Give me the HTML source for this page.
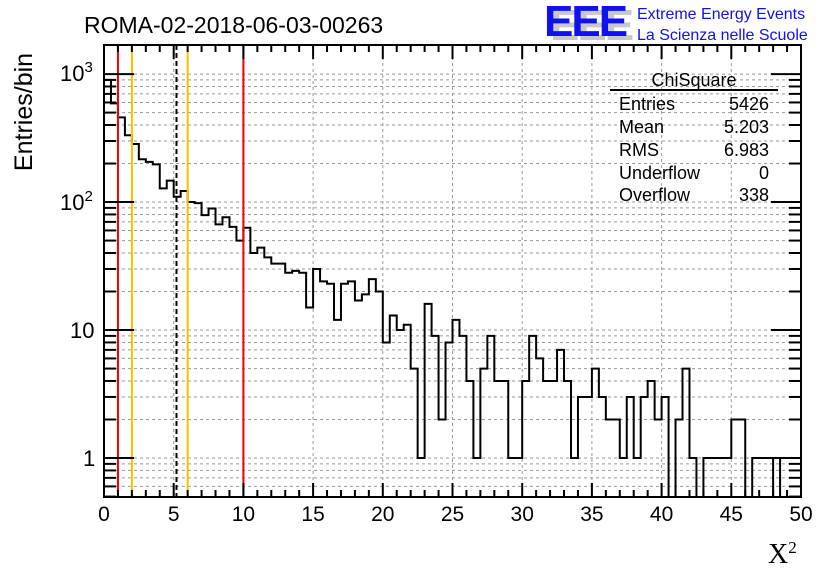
<!DOCTYPE html>
<html><head><meta charset="utf-8"><style>
html,body{margin:0;padding:0;background:#fff;}
svg{display:block;font-family:"Liberation Sans",sans-serif;}
</style></head><body>
<svg id="c" width="836" height="572" viewBox="0 0 836 572"></svg>
<script>
const binWidth = 0.5;
const counts = [900,590,459,333,284,216,206,197,128,147,110,122,100,98,79,89,67,76,64,50,
63,40,44,37,33,33,28,29,28,15,30,24,23,12,23,24,17,19,25,20,
8,13,10,11,5,1,16,9,2,8,12,9,4,1,5,9,4,4,1,1,
4,9,6,4,4,7,4,1,3,3,5,3,2,2,1,3,1,3,4,2,
3,0,2,5,1,0,1,1,1,1,2,2,0,1,1,1,0,1,1,1];
const xTickLabels = ["0","5","10","15","20","25","30","35","40","45","50"];
const xTickValues = [0,5,10,15,20,25,30,35,40,45,50];
const redLines = [1,10];
const orangeLines = [2,6];
const meanLine = [5.2];
const statsLabels = ["Entries","Mean","RMS","Underflow","Overflow"];
const statsValues = ["5426","5.203","6.983","0","338"];

const L=104,R=801,T=45,B=497, xmin=0,xmax=50, lmin=Math.log10(0.496), lmax=Math.log10(1687);
const X=v=>L+(v-xmin)/(xmax-xmin)*(R-L);
const Y=v=>B-(Math.log10(v)-lmin)/(lmax-lmin)*(B-T);
const svg=document.getElementById('c');
const NS='http://www.w3.org/2000/svg';
function mk(tag,attrs,parent){const e=document.createElementNS(NS,tag);for(const k in attrs)e.setAttribute(k,attrs[k]);(parent||svg).appendChild(e);return e;}

// grid
const grid=mk('g',{});


xTickValues.forEach(v=>{if(v>xmin&&v<xmax)mk('line',{x1:X(v),x2:X(v),y1:T,y2:B,stroke:'#999','stroke-dasharray':'3,3','stroke-width':1},grid);});
for(let d=-1;d<=3;d++)for(let m=1;m<10;m++){const v=m*Math.pow(10,d);const y=Y(v);if(y>T&&y<B)mk('line',{x1:L,x2:R,y1:y,y2:y,stroke:'#999','stroke-dasharray':'3,3','stroke-width':1},grid);}

// histogram
let d='';const yb=B;
counts.forEach((c,i)=>{const x0=X(i*binWidth),x1=X((i+1)*binWidth);const y=c>0?Math.max(T,Y(c)):yb;
 if(i===0)d+=`M${x0},${y}`;else d+=`L${x0},${y}`;d+=`L${x1},${y}`;});
d+=`L${X(counts.length*binWidth)},${yb}`;
const h=mk('path',{d:d,fill:'none',stroke:'#000','stroke-width':2});



// markers
redLines.forEach(v=>{const l=mk('line',{x1:X(v),x2:X(v),y1:T,y2:B,stroke:'#e00','stroke-width':2});
 });
orangeLines.forEach(v=>{const l=mk('line',{x1:X(v),x2:X(v),y1:T,y2:B,stroke:'#f5c000','stroke-width':2});
 });
meanLine.forEach(v=>{const l=mk('line',{x1:X(v),x2:X(v),y1:T,y2:B,stroke:'#000','stroke-width':2,'stroke-dasharray':'5,3'});
 });

// frame & ticks
const fr=mk('rect',{x:L,y:T,width:R-L,height:B-T,fill:'none',stroke:'#000','stroke-width':2});

for(let v=0;v<=50;v++){const big=v%5===0;const len=big?14:7;
 mk('line',{x1:X(v),x2:X(v),y1:B,y2:B-len,stroke:'#000','stroke-width':2});
 mk('line',{x1:X(v),x2:X(v),y1:T,y2:T+len,stroke:'#000','stroke-width':2});}
for(let dd=-1;dd<=3;dd++)for(let m=1;m<10;m++){const v=m*Math.pow(10,dd);const y=Y(v);if(y<T||y>B)continue;const len=m===1?30:12;
 mk('line',{x1:L,x2:L+len,y1:y,y2:y,stroke:'#000','stroke-width':2});
 mk('line',{x1:R,x2:R-len,y1:y,y2:y,stroke:'#000','stroke-width':2});}
xTickLabels.forEach((t,i)=>{const e=mk('text',{x:X(xTickValues[i]),y:521,'font-size':21,'text-anchor':'middle'});e.textContent=t;
 });
</script>
<svg width="836" height="572" style="position:absolute;left:0;top:0" font-family="Liberation Sans, sans-serif">
<text x="84" y="33" font-size="23">ROMA-02-2018-06-03-00263</text>
<text x="60" y="81" font-size="22">10<tspan dy="-9" font-size="15">3</tspan></text>
<text x="60" y="210" font-size="22">10<tspan dy="-9" font-size="15">2</tspan></text>
<text x="70" y="338" font-size="22">10</text>
<text x="83" y="466" font-size="22">1</text>
<text transform="translate(32,112) rotate(-90)" font-size="25" text-anchor="middle">Entries/bin</text>
<text x="768" y="563" font-size="28" font-family="Liberation Serif, serif">X<tspan dy="-10" font-size="17">2</tspan></text>
<g>
<text x="550" y="40" font-size="44" font-weight="bold" fill="#c8c8c8" letter-spacing="-2">EEE</text>
<text x="544" y="36" font-size="44" font-weight="bold" fill="#1010f0" letter-spacing="-2">EEE</text>
<text x="637" y="19" font-size="16" fill="#1010f0">Extreme Energy Events</text>
<text x="637" y="40" font-size="16" fill="#1010f0">La Scienza nelle Scuole</text>
</g>
<g font-size="18">
<text x="694" y="86" text-anchor="middle">ChiSquare</text>
<line x1="610" x2="778" y1="90" y2="90" stroke="#000" stroke-width="2"/>
<text x="619" y="110">Entries</text><text x="769" y="110" text-anchor="end">5426</text>
<text x="619" y="133">Mean</text><text x="769" y="133" text-anchor="end">5.203</text>
<text x="619" y="156">RMS</text><text x="769" y="156" text-anchor="end">6.983</text>
<text x="619" y="179">Underflow</text><text x="769" y="179" text-anchor="end">0</text>
<text x="619" y="201">Overflow</text><text x="769" y="201" text-anchor="end">338</text>
</g>
</svg>
</body></html>
